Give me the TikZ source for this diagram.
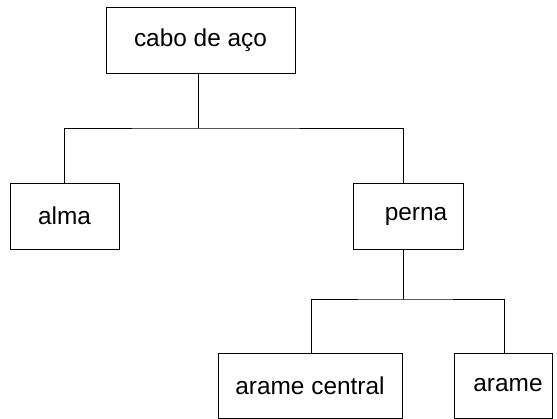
\documentclass[tikz,border=0pt]{standalone}
\usepackage{fontspec}
\setmainfont{Liberation Sans}
\begin{document}
\begin{tikzpicture}[x=1pt, y=-1pt,
    box/.style={draw, line width=0.8pt, inner sep=0pt, font=\fontsize{24.4}{28}\selectfont}]
    \useasboundingbox (0,0) rectangle (557,419);
    \node[box, minimum width=189pt, minimum height=66pt] (cabo) at (200.5,40) {cabo de aço};
    \node[box, minimum width=109pt, minimum height=66pt] (alma) at (64.5,216) {alma};
    \node[box, minimum width=110pt, minimum height=66pt] (perna) at (408,216) {\hspace*{16pt}perna};
    \node[box, minimum width=184pt, minimum height=65pt] (acentral) at (310,385.5) {arame central};
    \node[box, minimum width=98pt, minimum height=65pt] (arame) at (503,385.5) {\hspace*{10pt}arame};
    \coordinate (j1) at (198,128);
    \coordinate (j2) at (403,299);
    \draw[line width=0.8pt] ([xshift=-2.5pt]cabo.south) -- (j1);
    \draw[line width=0.8pt] (alma.north) |- (j1) -| ([xshift=-5pt]perna.north);
    \draw[line width=0.8pt] ([xshift=-5pt]perna.south) -- (j2);
    \draw[line width=0.8pt] ([xshift=1pt]acentral.north) |- (j2) -| ([xshift=1pt]arame.north);
\end{tikzpicture}
\end{document}
